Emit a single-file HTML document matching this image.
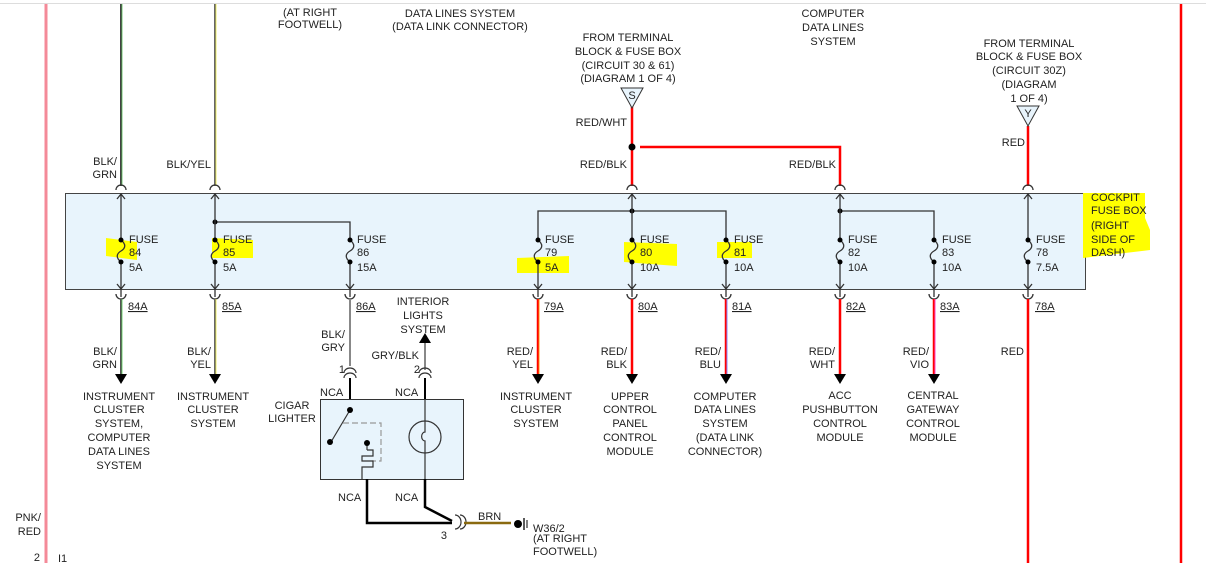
<!DOCTYPE html>
<html><head><meta charset="utf-8"><style>
html,body{margin:0;padding:0;background:#fff;}
svg{display:block;}
text{font-family:"Liberation Sans",sans-serif;font-size:11px;fill:#222;}
</style></head><body>
<svg width="1206" height="563" viewBox="0 0 1206 563" xmlns="http://www.w3.org/2000/svg">
<line x1="0" y1="3.5" x2="1206" y2="3.5" stroke="#ddd" stroke-width="1"/>
<line x1="46" y1="4" x2="46" y2="563" stroke="#f48a98" stroke-width="3"/>
<line x1="1181" y1="4" x2="1181" y2="563" stroke="#f00" stroke-width="2.5"/>

<!-- fuse box -->
<rect x="65.5" y="193.5" width="1020" height="96" fill="#e8f4fc" stroke="#444" stroke-width="1"/>

<!-- highlights -->
<g fill="#ffff00">
<polygon points="106,238 137,242 137,260 106,256"/>
<polygon points="212,238 253,240 253,258 212,258"/>
<polygon points="517,258 569,256 569,273 517,273"/>
<polygon points="624,242 677,244 677,266 624,262"/>
<polygon points="717,242 752,242 752,258 717,258"/>
<polygon points="1083,193 1145,193 1145,218 1150,230 1150,250 1083,258"/>
</g>

<!-- top wires -->
<line x1="121" y1="4" x2="121" y2="186" stroke="#444" stroke-width="2"/><line x1="122" y1="4" x2="122" y2="186" stroke="#5b5" stroke-width="0.8"/>
<line x1="215" y1="4" x2="215" y2="186" stroke="#666" stroke-width="2"/><line x1="216" y1="4" x2="216" y2="186" stroke="#ee4" stroke-width="0.8"/>
<polyline points="632,106 632,186" stroke="#f00" stroke-width="2.5" fill="none"/>
<polyline points="640,147 840,147 840,186" stroke="#f00" stroke-width="2.5" fill="none"/>
<line x1="1028" y1="126" x2="1028" y2="186" stroke="#f00" stroke-width="2.5"/>
<circle cx="632" cy="147" r="3.5" fill="#000"/>
<polygon points="621,88 643,88 632,108" fill="#e8f4fc" stroke="#333"/>
<text x="632" y="99" text-anchor="middle">S</text>
<polygon points="1017,106 1039,106 1028,126" fill="#e8f4fc" stroke="#333"/>
<text x="1028" y="117" text-anchor="middle">Y</text>

<!-- internal buses -->
<g stroke="#333" stroke-width="1.3" fill="none">
<polyline points="215,222 350,222 350,240"/>
<polyline points="538,240 538,211 726,211 726,240"/>
<polyline points="840,211 934,211 934,240"/>
</g>
<g fill="#000">
<circle cx="215" cy="222" r="2.5"/><circle cx="632" cy="211" r="2.5"/><circle cx="840" cy="211" r="2.5"/>
</g>

<!-- fuses -->
<g stroke="#333" stroke-width="1.3" fill="none">
<path d="M121 194V240 M121 262V297"/><path d="M215 194V240 M215 262V297"/><path d="M350 262V297"/>
<path d="M538 262V297"/><path d="M632 194V240 M632 262V297"/><path d="M726 262V297"/>
<path d="M840 194V240 M840 262V297"/><path d="M934 262V297"/><path d="M1028 194V240 M1028 262V297"/>
<path d="M121 240c5 4 5 8 0 11s-5 7 0 11"/><path d="M215 240c5 4 5 8 0 11s-5 7 0 11"/><path d="M350 240c5 4 5 8 0 11s-5 7 0 11"/>
<path d="M538 240c5 4 5 8 0 11s-5 7 0 11"/><path d="M632 240c5 4 5 8 0 11s-5 7 0 11"/><path d="M726 240c5 4 5 8 0 11s-5 7 0 11"/>
<path d="M840 240c5 4 5 8 0 11s-5 7 0 11"/><path d="M934 240c5 4 5 8 0 11s-5 7 0 11"/><path d="M1028 240c5 4 5 8 0 11s-5 7 0 11"/>
<path d="M117 199l4-5 4 5M211 199l4-5 4 5M628 199l4-5 4 5M836 199l4-5 4 5M1024 199l4-5 4 5"/>
<path d="M116 190a5 5 0 0 1 10 0M210 190a5 5 0 0 1 10 0M627 190a5 5 0 0 1 10 0M835 190a5 5 0 0 1 10 0M1023 190a5 5 0 0 1 10 0"/>
<path d="M117 284l4 5 4-5M211 284l4 5 4-5M346 284l4 5 4-5M534 284l4 5 4-5M628 284l4 5 4-5M722 284l4 5 4-5M836 284l4 5 4-5M930 284l4 5 4-5M1024 284l4 5 4-5"/>
<path d="M116 294a5 5 0 0 0 10 0M210 294a5 5 0 0 0 10 0M345 294a5 5 0 0 0 10 0M533 294a5 5 0 0 0 10 0M627 294a5 5 0 0 0 10 0M721 294a5 5 0 0 0 10 0M835 294a5 5 0 0 0 10 0M929 294a5 5 0 0 0 10 0M1023 294a5 5 0 0 0 10 0"/>
</g>
<g fill="#000">
<circle cx="121" cy="240" r="2.5"/><circle cx="121" cy="262" r="2.5"/>
<circle cx="215" cy="240" r="2.5"/><circle cx="215" cy="262" r="2.5"/>
<circle cx="350" cy="240" r="2.5"/><circle cx="350" cy="262" r="2.5"/>
<circle cx="538" cy="240" r="2.5"/><circle cx="538" cy="262" r="2.5"/>
<circle cx="632" cy="240" r="2.5"/><circle cx="632" cy="262" r="2.5"/>
<circle cx="726" cy="240" r="2.5"/><circle cx="726" cy="262" r="2.5"/>
<circle cx="840" cy="240" r="2.5"/><circle cx="840" cy="262" r="2.5"/>
<circle cx="934" cy="240" r="2.5"/><circle cx="934" cy="262" r="2.5"/>
<circle cx="1028" cy="240" r="2.5"/><circle cx="1028" cy="262" r="2.5"/>
</g>
<g>
<text x="129" y="243">FUSE</text><text x="129" y="256">84</text><text x="129" y="271">5A</text>
<text x="223" y="243">FUSE</text><text x="223" y="256">85</text><text x="223" y="271">5A</text>
<text x="357" y="243">FUSE</text><text x="357" y="256">86</text><text x="357" y="271">15A</text>
<text x="545" y="243">FUSE</text><text x="545" y="256">79</text><text x="545" y="271">5A</text>
<text x="640" y="243">FUSE</text><text x="640" y="256">80</text><text x="640" y="271">10A</text>
<text x="734" y="243">FUSE</text><text x="734" y="256">81</text><text x="734" y="271">10A</text>
<text x="848" y="243">FUSE</text><text x="848" y="256">82</text><text x="848" y="271">10A</text>
<text x="942" y="243">FUSE</text><text x="942" y="256">83</text><text x="942" y="271">10A</text>
<text x="1036" y="243">FUSE</text><text x="1036" y="256">78</text><text x="1036" y="271">7.5A</text>
<text x="1091" y="201">COCKPIT</text><text x="1091" y="214">FUSE BOX</text><text x="1091" y="229">(RIGHT</text><text x="1091" y="243">SIDE OF</text><text x="1091" y="256">DASH)</text>
</g>

<!-- bottom wires -->
<line x1="121" y1="299" x2="121" y2="374" stroke="#555" stroke-width="2"/><line x1="122" y1="299" x2="122" y2="374" stroke="#5c5" stroke-width="0.8"/>
<line x1="215" y1="299" x2="215" y2="374" stroke="#666" stroke-width="2"/><line x1="216" y1="299" x2="216" y2="374" stroke="#ee4" stroke-width="0.8"/>
<line x1="350" y1="299" x2="350" y2="366" stroke="#888" stroke-width="2"/>
<line x1="538" y1="299" x2="538" y2="374" stroke="#f00" stroke-width="2.5"/><line x1="539" y1="299" x2="539" y2="374" stroke="#f90" stroke-width="0.8"/>
<line x1="632" y1="299" x2="632" y2="374" stroke="#f00" stroke-width="2.5"/>
<line x1="726" y1="299" x2="726" y2="374" stroke="#f00" stroke-width="2.5"/><line x1="727" y1="299" x2="727" y2="374" stroke="#88f" stroke-width="1"/>
<line x1="840" y1="299" x2="840" y2="374" stroke="#f00" stroke-width="2.5"/>
<line x1="934" y1="299" x2="934" y2="374" stroke="#f00" stroke-width="2.5"/><line x1="935" y1="299" x2="935" y2="374" stroke="#f4c" stroke-width="1"/>
<line x1="1028" y1="299" x2="1028" y2="563" stroke="#f00" stroke-width="2.5"/>
<g fill="#000">
<polygon points="115,374 127,374 121,384"/><polygon points="209,374 221,374 215,384"/>
<polygon points="532,374 544,374 538,384"/><polygon points="626,374 638,374 632,384"/>
<polygon points="720,374 732,374 726,384"/><polygon points="834,374 846,374 840,384"/>
<polygon points="928,374 940,374 934,384"/>
</g>
<g>
<text x="128" y="310" text-decoration="underline">84A</text><text x="222" y="310" text-decoration="underline">85A</text><text x="356" y="310" text-decoration="underline">86A</text>
<text x="544" y="310" text-decoration="underline">79A</text><text x="638" y="310" text-decoration="underline">80A</text><text x="732" y="310" text-decoration="underline">81A</text>
<text x="846" y="310" text-decoration="underline">82A</text><text x="940" y="310" text-decoration="underline">83A</text><text x="1035" y="310" text-decoration="underline">78A</text>
</g>
<g text-anchor="end">
<text x="117" y="355">BLK/</text><text x="117" y="368">GRN</text>
<text x="211" y="355">BLK/</text><text x="211" y="368">YEL</text>
<text x="345" y="338">BLK/</text><text x="345" y="351">GRY</text>
<text x="533" y="355">RED/</text><text x="533" y="368">YEL</text>
<text x="627" y="355">RED/</text><text x="627" y="368">BLK</text>
<text x="721" y="355">RED/</text><text x="721" y="368">BLU</text>
<text x="835" y="355">RED/</text><text x="835" y="368">WHT</text>
<text x="929" y="355">RED/</text><text x="929" y="368">VIO</text>
<text x="1024" y="355">RED</text>
<text x="117" y="165">BLK/</text><text x="117" y="178">GRN</text>
<text x="211" y="168">BLK/YEL</text>
<text x="627" y="126">RED/WHT</text><text x="627" y="168">RED/BLK</text>
<text x="836" y="168">RED/BLK</text>
<text x="1025" y="146">RED</text>
<text x="41" y="521">PNK/</text><text x="41" y="535">RED</text>
<text x="40" y="561">2</text>
<text x="419" y="359">GRY/BLK</text>
</g>
<text x="58" y="562">I1</text>
<g text-anchor="middle">
<text x="119" y="400">INSTRUMENT</text><text x="119" y="413">CLUSTER</text><text x="119" y="427">SYSTEM,</text><text x="119" y="441">COMPUTER</text><text x="119" y="455">DATA LINES</text><text x="119" y="469">SYSTEM</text>
<text x="213" y="400">INSTRUMENT</text><text x="213" y="413">CLUSTER</text><text x="213" y="427">SYSTEM</text>
<text x="536" y="400">INSTRUMENT</text><text x="536" y="413">CLUSTER</text><text x="536" y="427">SYSTEM</text>
<text x="630" y="400">UPPER</text><text x="630" y="413">CONTROL</text><text x="630" y="427">PANEL</text><text x="630" y="441">CONTROL</text><text x="630" y="455">MODULE</text>
<text x="725" y="400">COMPUTER</text><text x="725" y="413">DATA LINES</text><text x="725" y="427">SYSTEM</text><text x="725" y="441">(DATA LINK</text><text x="725" y="455">CONNECTOR)</text>
<text x="840" y="399">ACC</text><text x="840" y="413">PUSHBUTTON</text><text x="840" y="427">CONTROL</text><text x="840" y="441">MODULE</text>
<text x="933" y="399">CENTRAL</text><text x="933" y="413">GATEWAY</text><text x="933" y="427">CONTROL</text><text x="933" y="441">MODULE</text>
<text x="423" y="305">INTERIOR</text><text x="423" y="319">LIGHTS</text><text x="423" y="333">SYSTEM</text>
<text x="310" y="16">(AT RIGHT</text><text x="310" y="28">FOOTWELL)</text>
<text x="460" y="17">DATA LINES SYSTEM</text><text x="460" y="30">(DATA LINK CONNECTOR)</text>
<text x="833" y="17">COMPUTER</text><text x="833" y="31">DATA LINES</text><text x="833" y="45">SYSTEM</text>
<text x="628" y="41">FROM TERMINAL</text><text x="628" y="55">BLOCK &amp; FUSE BOX</text><text x="628" y="69">(CIRCUIT 30 &amp; 61)</text><text x="628" y="82">(DIAGRAM 1 OF 4)</text>
<text x="1029" y="47">FROM TERMINAL</text><text x="1029" y="60">BLOCK &amp; FUSE BOX</text><text x="1029" y="74">(CIRCUIT 30Z)</text><text x="1029" y="88">(DIAGRAM</text><text x="1029" y="102">1 OF 4)</text>
<text x="292" y="409">CIGAR</text><text x="292" y="422">LIGHTER</text>
</g>

<!-- cigar lighter -->
<line x1="425" y1="343" x2="425" y2="370" stroke="#888" stroke-width="2"/>
<polygon points="419,343 431,343 425,333" fill="#000"/>
<text x="420" y="373" text-anchor="end">2</text><text x="345" y="373" text-anchor="end">1</text>
<g stroke="#333" stroke-width="1.2" fill="none">
<path d="M344 373a6 5 0 0 1 12 0M344 378a6 5 0 0 1 12 0M419 373a6 5 0 0 1 12 0M419 378a6 5 0 0 1 12 0"/>
</g>
<line x1="350" y1="378" x2="350" y2="410" stroke="#000" stroke-width="2"/>
<line x1="425" y1="378" x2="425" y2="400" stroke="#000" stroke-width="2"/>
<text x="320" y="396">NCA</text><text x="395" y="396">NCA</text>
<rect x="320.5" y="399.5" width="143" height="80" fill="#e8f4fc" stroke="#333"/>
<g stroke="#333" stroke-width="1.2" fill="none">
<line x1="350" y1="410" x2="331" y2="442"/>
<path d="M343 423H381V461H372" stroke="#999" stroke-dasharray="6,3"/>
<line x1="367" y1="443" x2="367" y2="450"/>
<path d="M367 450H373V456H362V461H373V467H362V479"/>
<circle cx="425" cy="437" r="16"/>
<path d="M425 400V432a3 4 0 0 0 0 9V479"/>
</g>
<g fill="#000"><circle cx="350" cy="410" r="3"/><circle cx="330" cy="442" r="3"/><circle cx="367" cy="443" r="3"/></g>
<polyline points="367,479 367,523 452,523" stroke="#000" stroke-width="2.5" fill="none"/>
<polyline points="425,479 425,507 452,521" stroke="#000" stroke-width="2.5" fill="none"/>
<text x="338" y="501">NCA</text><text x="395" y="501">NCA</text>
<path d="M455 515a6 7 0 0 1 0 14M460 515a6 7 0 0 1 0 14" stroke="#333" stroke-width="1.2" fill="none"/>
<text x="447" y="539" text-anchor="end">3</text>
<line x1="464" y1="523" x2="511" y2="523" stroke="#8a6a10" stroke-width="2.5"/>
<text x="478" y="520">BRN</text>
<circle cx="518" cy="524" r="4" fill="#000"/>
<line x1="524" y1="518" x2="524" y2="530" stroke="#000" stroke-width="1.3"/>
<line x1="527" y1="520" x2="527" y2="528" stroke="#000" stroke-width="1"/>
<text x="533" y="532">W36/2</text><text x="533" y="542">(AT RIGHT</text><text x="533" y="555">FOOTWELL)</text>
</svg>
</body></html>
